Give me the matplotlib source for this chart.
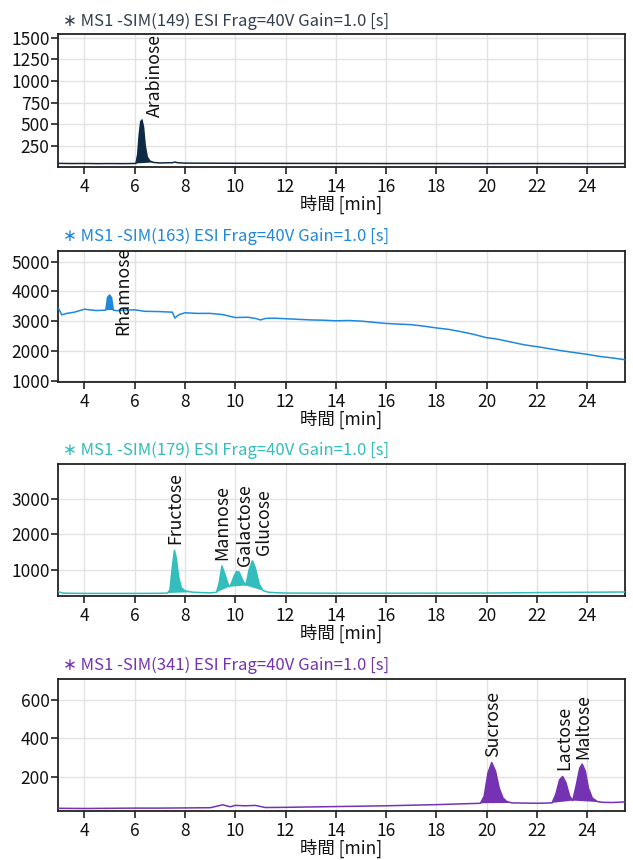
import matplotlib
matplotlib.use("Agg")
import matplotlib.pyplot as plt

plt.rcParams["font.family"] = ["Noto Sans CJK JP", "DejaVu Sans"]
plt.rcParams["font.size"] = 12

# ---------- Data ----------
titles = [
    "∗ MS1 -SIM(149) ESI Frag=40V Gain=1.0 [s]",
    "∗ MS1 -SIM(163) ESI Frag=40V Gain=1.0 [s]",
    "∗ MS1 -SIM(179) ESI Frag=40V Gain=1.0 [s]",
    "∗ MS1 -SIM(341) ESI Frag=40V Gain=1.0 [s]",
]
colors = ["#0f2a45", "#1f88dd", "#33bdbd", "#7533b3"]
title_colors = ["#33404d", "#1f88dd", "#33bdbd", "#7533b3"]

# SIM(149)
t149 = [2.95, 3.5, 4.0, 4.5, 5.0, 5.5, 6.05, 6.12, 6.18, 6.24, 6.29, 6.35, 6.42,
        6.50, 6.60, 6.75, 7.0, 7.5, 7.6, 7.7, 8.0, 10.0, 12.0, 14.0, 16.0, 18.0,
        20.0, 22.0, 24.0, 25.5]
i149 = [47, 45, 46, 44, 45, 44, 46, 150, 380, 530, 550, 470, 250,
        120, 75, 58, 52, 55, 62, 55, 50, 48, 47, 46, 45, 45,
        44, 45, 44, 45]

# SIM(163)
t163 = [2.95, 3.0, 3.1, 3.3, 3.6, 4.0, 4.3, 4.5, 4.85, 4.92, 5.0, 5.08, 5.15,
        5.3, 5.6, 6.0, 6.4, 7.0, 7.5, 7.6, 7.7, 7.8, 8.0, 8.5, 9.0, 9.5, 10.0,
        10.5, 10.8, 11.0, 11.2, 11.5, 12.0, 12.5, 13.0, 13.5, 14.0, 14.5, 15.0,
        15.5, 16.0, 16.5, 17.0, 17.5, 18.0, 18.5, 19.0, 19.5, 20.0, 20.3, 20.5,
        21.0, 21.5, 22.0, 22.5, 23.0, 23.5, 24.0, 24.5, 25.0, 25.5]
i163 = [3450, 3380, 3210, 3260, 3300, 3400, 3370, 3355, 3370, 3800, 3880, 3790, 3370,
        3350, 3370, 3380, 3330, 3320, 3300, 3100, 3180, 3230, 3280, 3260, 3260, 3220, 3120,
        3130, 3090, 3040, 3090, 3100, 3080, 3060, 3040, 3030, 3010, 3020, 3000,
        2960, 2920, 2900, 2880, 2830, 2770, 2720, 2640, 2550, 2440, 2410, 2380,
        2290, 2200, 2140, 2070, 2000, 1940, 1880, 1810, 1760, 1700]

# SIM(179)
t179 = [2.95, 3.1, 3.3, 4.0, 5.0, 6.0, 7.0, 7.3, 7.4, 7.5, 7.58, 7.65, 7.75,
        7.85, 8.0, 8.3, 8.6, 9.0, 9.25, 9.35, 9.47, 9.6, 9.75, 9.85, 9.95, 10.05,
        10.15, 10.3, 10.42, 10.55, 10.68, 10.8, 10.95, 11.1, 11.3, 11.6, 12.0,
        14.0, 16.0, 18.0, 20.0, 22.0, 24.0, 25.5]
i179 = [390, 350, 340, 335, 335, 335, 338, 345, 430, 1100, 1550, 1350, 800,
        500, 410, 370, 360, 350, 365, 600, 1110, 850, 520, 620, 820, 950,
        940, 700, 560, 1000, 1255, 1050, 600, 420, 370, 355, 345,
        340, 340, 342, 345, 358, 368, 375]

# SIM(341)
t341 = [2.95, 4.0, 5.0, 6.0, 7.0, 8.0, 9.0, 9.5, 9.8, 10.0, 10.4, 10.8, 11.2,
        12.0, 14.0, 16.0, 18.0, 19.0, 19.75, 19.9, 20.05, 20.2, 20.35, 20.5,
        20.65, 20.8, 21.0, 21.5, 22.0, 22.6, 22.75, 22.9, 23.02, 23.15, 23.3,
        23.42, 23.55, 23.7, 23.8, 23.92, 24.05, 24.2, 24.4, 24.6, 25.0, 25.5]
i341 = [37, 36, 37, 38, 38, 39, 40, 55, 45, 52, 50, 52, 41,
        42, 46, 50, 56, 60, 63, 100, 220, 274, 230, 140,
        90, 72, 65, 64, 63, 65, 110, 185, 202, 170, 100,
        77, 150, 245, 266, 230, 140, 90, 72, 68, 67, 70]

# peak windows (start, end) that are filled, and labels
peaks = [
    [(6.05, 6.75)],
    [(4.85, 5.15)],
    [(7.3, 8.3), (9.25, 9.75), (9.75, 10.42), (10.42, 11.3)],
    [(19.75, 21.0), (22.6, 23.42), (23.42, 24.6)],
]
label_names = [
    ["Arabinose"],
    ["Rhamnose"],
    ["Fructose", "Mannose", "Galactose", "Glucose"],
    ["Sucrose", "Lactose", "Maltose"],
]
label_x = [[6.82], [5.55], [7.63, 9.49, 10.37, 11.16], [20.24, 23.09, 23.85]]
label_y = [[585], [2540], [1737, 1283, 1113, 1425], [305, 233, 293]]

traces = [(t149, i149), (t163, i163), (t179, i179), (t341, i341)]
ylims = [(5, 1545), (950, 5360), (262, 3985), (23, 707)]
yticks = [[250, 500, 750, 1000, 1250, 1500], [1000, 2000, 3000, 4000, 5000],
          [1000, 2000, 3000], [200, 400, 600]]
xticks = [4, 6, 8, 10, 12, 14, 16, 18, 20, 22, 24]

# ---------- Figure ----------
W, H = 633, 860
fig = plt.figure(figsize=(W / 100, H / 100), dpi=100)

ax_tops = [34, 251, 464, 679]
ax_bottoms = [167, 382, 596, 811]
title_y = [21, 236, 450, 665]
left, right = 58, 625

for k in range(4):
    ax = fig.add_axes([left / W, 1 - ax_bottoms[k] / H,
                       (right - left) / W, (ax_bottoms[k] - ax_tops[k]) / H])
    t, inten = traces[k]
    ax.plot(t, inten, color=colors[k], lw=1.1, zorder=3)
    for (a, b) in peaks[k]:
        xs = [x for x in t if a <= x <= b]
        ys = [y for x, y in zip(t, inten) if a <= x <= b]
        ax.fill(xs, ys, color=colors[k], lw=0, zorder=2)
    for name, lx, ly in zip(label_names[k], label_x[k], label_y[k]):
        ax.text(lx, ly, name, rotation=90, ha="center", va="bottom",
                fontsize=12.8, color="#111111", zorder=4)

    ax.set_xlim(2.95, 25.5)
    ax.set_ylim(*ylims[k])
    ax.set_xticks(xticks)
    ax.set_yticks(yticks[k])
    ax.grid(True, color="#e2e2e2", lw=1.0)
    ax.set_axisbelow(True)
    for sp in ax.spines.values():
        sp.set_color("#222222")
        sp.set_linewidth(1.3)
    ax.tick_params(axis="both", direction="out", length=5, width=1.2,
                   colors="#222222", labelcolor="#111111", labelsize=12.5)
    ax.tick_params(axis="x", pad=3)
    ax.tick_params(axis="y", pad=1)
    ax.set_xlabel("時間 [min]", fontsize=12.5, labelpad=-1, color="#111111")

    fig.text(63 / W, 1 - title_y[k] / H, titles[k], color=title_colors[k],
             fontsize=12, ha="left", va="center")

fig.savefig("out.png", dpi=100)
